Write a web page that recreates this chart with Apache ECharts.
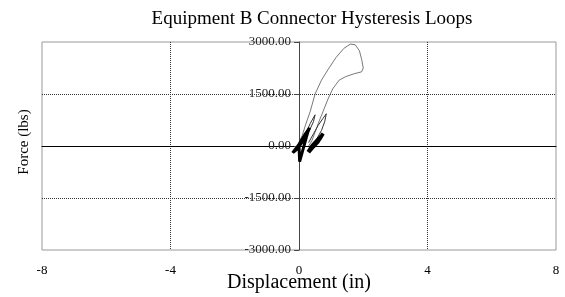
<!DOCTYPE html>
<html>
<head>
<meta charset="utf-8">
<script src="https://cdn.jsdelivr.net/npm/echarts@6/dist/echarts.min.js"></script>
<style>
  html, body { margin: 0; padding: 0; background: #fff; }
  #chart { width: 565px; height: 297px; }
</style>
</head>
<body>
<div id="chart"></div>
<script>
// axis ticks
var xTicks = [-8, -4, 0, 4, 8];
var yTicks = [-3000, -1500, 0, 1500, 3000];

// big loop (displacement in, force lbs)
var bigLoop = [
  [-0.05, 0], [0.1, 300], [0.2, 600], [0.35, 1000], [0.5, 1500], [0.7, 1900],
  [0.9, 2200], [1.15, 2550], [1.4, 2820], [1.6, 2940], [1.75, 2920], [1.88, 2750],
  [1.95, 2500], [2.0, 2250], [1.95, 2140], [1.7, 2080], [1.45, 2000], [1.25, 1900],
  [1.05, 1650], [0.9, 1350], [0.75, 1000], [0.62, 700], [0.5, 400], [0.4, 150], [0.3, 0]
];
// medium loops
var midLoop = [
  [0.3, 100], [0.45, 350], [0.6, 600], [0.75, 800], [0.85, 930],
  [0.8, 700], [0.7, 450], [0.55, 200], [0.4, 0]
];
var smallLoop = [
  [0.05, 100], [0.2, 350], [0.35, 650], [0.5, 900], [0.45, 700],
  [0.3, 400], [0.15, 150], [0.0, -50]
];
// dense clusters near origin
var leftCluster = [
  [-0.2, -200], [-0.1, -80], [0.0, 50], [0.1, 200], [0.2, 350], [0.33, 520],
  [0.22, 300], [0.1, 120], [-0.05, -80], [-0.18, -180], [0.0, -20], [0.15, 250],
  [0.28, 420], [0.02, -450], [0.0, 0]
];
var rightCluster = [
  [0.28, -170], [0.4, 0], [0.55, 150], [0.7, 300], [0.75, 360], [0.65, 200],
  [0.5, 50], [0.35, -100], [0.3, -180], [0.45, -20], [0.6, 130], [0.72, 330]
];

var chart = echarts.init(document.getElementById('chart'));
var font = 'Liberation Serif, Times New Roman, serif';
var gridLeft = 42, gridRight = 9;
// pixel offset that puts the label axis on x = 0
var zeroOffset = -Math.round((565 - gridLeft - gridRight) / 2);

function lineSeries(data, width, color) {
  return {
    type: 'line', data: data, showSymbol: false, smooth: false,
    lineStyle: { width: width, color: color }, silent: true
  };
}

var dotted = { type: 'dotted', color: '#333', width: 1 };

chart.setOption({
  animation: false,
  title: {
    text: 'Equipment B Connector Hysteresis Loops',
    left: 307, top: 5, textAlign: 'center',
    textStyle: { fontFamily: font, fontSize: 19, fontWeight: 'normal', color: '#000' }
  },
  grid: {
    left: gridLeft, right: gridRight, top: 42, bottom: 47,
    outerBoundsMode: 'none',
    show: true, borderColor: '#999', borderWidth: 1
  },
  xAxis: [{
    type: 'value', min: xTicks[0], max: xTicks[xTicks.length - 1], interval: 4,
    name: 'Displacement (in)', nameLocation: 'middle', nameGap: 23, nameMoveOverlap: false,
    nameTextStyle: { fontFamily: font, fontSize: 20, color: '#000' },
    axisLine: { onZero: false, show: false },
    axisTick: { show: false },
    axisLabel: { fontFamily: font, fontSize: 13, color: '#000', margin: 14 },
    splitLine: { show: true, showMinLine: false, showMaxLine: false, lineStyle: dotted }
  }, {
    type: 'value', min: -8, max: 8, position: 'bottom',
    axisLine: { onZero: true, show: true, lineStyle: { color: '#000', width: 1 } },
    axisTick: { show: false }, axisLabel: { show: false }, splitLine: { show: false }
  }],
  yAxis: [{
    type: 'value', min: yTicks[0], max: yTicks[yTicks.length - 1], interval: 1500,
    position: 'left', offset: zeroOffset,
    axisLine: { onZero: false, show: true, lineStyle: { color: '#444', width: 1 } },
    axisTick: { show: true, length: 5, lineStyle: { color: '#444' } },
    axisLabel: {
      fontFamily: font, fontSize: 13, color: '#222', margin: 8,
      formatter: function (v) { return v.toFixed(2); }
    },
    splitLine: { show: true, showMinLine: false, showMaxLine: false, lineStyle: dotted }
  }, {
    type: 'value', min: -3000, max: 3000, position: 'left',
    name: 'Force (lbs)', nameLocation: 'middle', nameGap: 10,
    nameTextStyle: { fontFamily: font, fontSize: 15, color: '#000', padding: [0, 0, 0, 8] },
    axisLine: { show: false, onZero: false }, axisTick: { show: false },
    axisLabel: { show: false }, splitLine: { show: false }
  }],
  series: [
    lineSeries(bigLoop, 0.8, '#555'),
    lineSeries(midLoop, 1, '#333'),
    lineSeries(smallLoop, 1, '#333'),
    lineSeries(leftCluster, 3, '#000'),
    lineSeries(rightCluster, 3.5, '#000')
  ]
});
</script>
</body>
</html>
